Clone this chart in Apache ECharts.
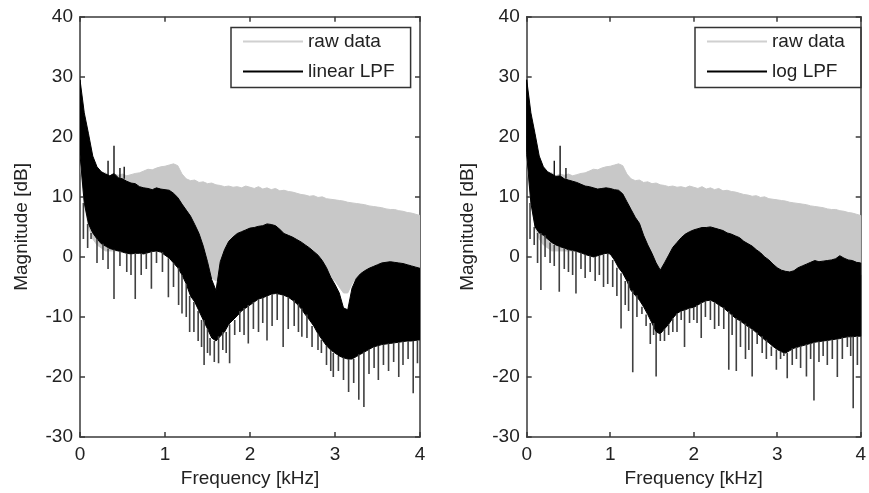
<!DOCTYPE html>
<html><head><meta charset="utf-8">
<script src="https://cdn.jsdelivr.net/npm/echarts@6/dist/echarts.min.js"></script>
<style>html,body{margin:0;padding:0;background:#fff}#c{width:869px;height:493px}</style>
</head><body><div id="c"></div>
<script>
// frequency bins every 0.05 kHz, 0 .. 4 kHz (81 bins)
const STEP = 0.05;
const xTicks = [0, 1, 2, 3, 4];
const yTicks = [-30, -20, -10, 0, 10, 20, 30, 40];

// raw data (same in both panels): upper / lower envelope [dB]
const rawHi = [
  17.5, 15.2, 14.1, 13.8, 13.6, 13.9, 14.0, 13.5, 13.8, 13.6,
  13.8, 13.5, 13.7, 13.9, 14.0, 14.3, 14.6, 14.5, 14.8, 15.0,
  15.1, 15.3, 15.5, 15.2, 13.8, 13.0, 12.7, 12.8, 12.4, 12.5,
  12.2, 12.3, 12.0, 11.9, 11.7, 11.8, 11.6, 11.7, 11.5, 11.8,
  11.6, 11.4, 11.7, 11.3, 11.5, 11.2, 11.4, 11.0, 11.1, 10.9,
  10.8, 10.6, 10.4, 10.3, 10.1, 10.2, 9.9, 10.0, 9.7, 9.6,
  9.5, 9.4, 9.3, 9.1, 9.0, 8.9, 8.8, 8.7, 8.5, 8.4,
  8.3, 8.2, 8.0, 7.9, 7.9, 7.7, 7.6, 7.4, 7.3, 7.1,
  6.9
];
const rawLo = [
  16, 9, 5, 3, 2, 1.5, 1, 1, 1, 1,
  1, 1, 1, 1, 1, 1, 1, 1, 1, 1,
  1, 0.5, 0, 0, -0.5, -1, -1, -1.5, -1.5, -2,
  -2.5, -3.5, -4, -3, -2.5, -2.5, -3, -3, -3, -3,
  -3, -3, -3, -3, -3, -3, -3, -3, -3, -3,
  -3, -3, -3, -3, -3, -3, -3, -3, -3, -3.5,
  -4, -5, -6, -6, -4.5, -3.5, -3, -3, -3, -3,
  -3, -3, -3, -3, -3, -3, -3, -3, -3, -3,
  -3
];
// linear LPF: upper envelope / lower edge of the solid band [dB]
const linHi = [
  29.5, 24.0, 20.5, 16.8, 15.0, 14.2, 13.8, 13.5, 13.9, 13.2,
  13.0, 12.6, 12.3, 12.2, 11.7, 11.5, 11.4, 11.2, 11.5, 11.3,
  11.2, 11.1, 10.6, 9.9, 8.8, 7.8, 6.8, 5.4, 3.9, 1.8,
  -0.8, -3.8, -5.6, -0.8, 1.2, 2.6, 3.3, 3.9, 4.2, 4.5,
  4.8, 4.9, 5.1, 5.2, 5.5, 5.4, 5.2, 4.6, 3.9, 3.6,
  3.3, 2.9, 2.5, 2.0, 1.5, 0.9, 0.3, -0.6, -1.8, -3.4,
  -4.6, -6.0, -8.5, -8.8, -5.2, -3.6, -2.8, -2.3, -1.9, -1.6,
  -1.3, -1.0, -0.9, -0.8, -0.9, -1.0, -1.1, -1.3, -1.5, -1.7,
  -1.9
];
const linLo = [
  17, 9, 5.5, 4, 3, 2.2, 1.8, 1.4, 1.2, 1.0,
  0.8, 0.6, 0.5, 0.6, 0.6, 0.5, 0.7, 0.9, 1.0, 0.8,
  0.3, -0.2, -1.0, -1.8, -3.0, -4.5, -6.5, -7.5, -9.0, -10.5,
  -12, -13.5, -14, -13.2, -12.5, -11.2, -10.5, -9.8, -9, -8.5,
  -8, -7.5, -7, -6.8, -6.5, -6.2, -6.1, -6.2, -6.4, -6.7,
  -7.2, -7.8, -8.6, -9.6, -10.5, -11.5, -12.8, -13.8, -14.8, -15.5,
  -16, -16.5, -16.8, -17, -17, -16.6, -16.2, -15.8, -15.4, -15,
  -14.8, -14.6, -14.5, -14.4, -14.3, -14.2, -14.1, -14, -14, -13.9,
  -13.8
];
// log LPF: upper envelope / lower edge of the solid band [dB]
const logHi = [
  29.5, 24.0, 20.5, 16.8, 15.0, 14.2, 13.8, 13.4, 13.5, 13.0,
  12.8, 12.6, 12.4, 12.1, 11.8, 11.7, 11.5, 11.3, 11.4, 11.5,
  11.4, 11.2, 11.1, 10.5, 9.2, 7.9, 6.6, 5.6, 3.6, 2.0,
  0.6, -1.0, -2.2, -1.0, 0.3, 1.6, 2.4, 3.2, 3.8, 4.2,
  4.5, 4.7, 4.9, 4.9, 5.0, 4.8, 4.6, 4.4, 4.0, 3.8,
  3.5, 3.2, 2.6, 2.2, 1.8, 1.2, 0.7, 0.0, -0.5, -1.2,
  -1.8, -2.2, -2.4, -2.5, -2.3, -1.8, -1.5, -1.2, -0.9, -0.6,
  -0.8, -0.7, -0.6, -0.5, -0.3, 0.2, -0.2, -0.5, -0.6, -0.9,
  -1.0
];
const logLo = [
  17, 9, 5, 4, 3.6, 3, 2.4, 2, 1.7, 1.5,
  1.2, 1.1, 0.9, 0.7, 0.4, 0.2, 0, 0.2, 0.4, 0.6,
  0.5, -0.5, -1.8, -2.7, -4, -5.6, -6.4, -7.2, -8.3, -9.6,
  -11, -12.5, -12.8, -12, -11.2, -10.2, -9.4, -9, -8.8, -8.5,
  -8.4, -8, -7.6, -7.3, -7.2, -7.5, -8, -8.4, -9, -9.6,
  -10.2, -10.6, -11.1, -11.6, -12, -12.6, -13.2, -13.8, -14.3, -14.9,
  -15.4, -15.8, -16, -15.6, -15.2, -15, -14.8, -14.6, -14.4, -14.2,
  -14.1, -14, -13.9, -13.8, -13.7, -13.6, -13.4, -13.3, -13.3, -13.2,
  -13.2
];
// isolated downward spikes [kHz, dB]
const linSpikes = [
  [0.04,3],[0.09,1.5],[0.13,3],[0.2,-1],[0.27,-0.5],[0.33,-2],[0.4,-7],[0.47,-1.5],[0.55,-2.5],[0.6,-3],
  [0.65,-7],[0.72,-3],[0.78,-2],[0.84,-5.3],[0.9,-1],[0.97,-2.5],[1.04,-6.7],[1.1,-5],[1.16,-8],[1.2,-9.4],
  [1.25,-10],[1.29,-12.5],[1.34,-12.5],[1.39,-14],[1.43,-15],[1.46,-18],[1.5,-16],[1.53,-16.4],[1.58,-17.5],[1.63,-17.7],
  [1.68,-15.5],[1.72,-16],[1.76,-17.7],[1.82,-13],[1.88,-12.5],[1.93,-13],[1.98,-14.4],[2.04,-12],[2.1,-12.5],[2.15,-11],
  [2.2,-13.9],[2.26,-11.5],[2.32,-10.5],[2.39,-15],[2.45,-12],[2.52,-11.5],[2.57,-12.5],[2.61,-13.3],[2.67,-13.5],[2.73,-15],
  [2.8,-15.5],[2.84,-16],[2.9,-18],[2.95,-19],[2.98,-20],[3.04,-19],[3.1,-20.5],[3.16,-22.5],[3.22,-21],[3.28,-23.8],
  [3.34,-25],[3.4,-19.5],[3.46,-18.5],[3.51,-20.5],[3.57,-18],[3.63,-19],[3.69,-17.5],[3.75,-20],[3.8,-18],[3.86,-17],
  [3.92,-22.7],[3.97,-17.7]
];
const logSpikes = [
  [0.04,3],[0.09,2],[0.13,-1],[0.17,-5.5],[0.22,0],[0.28,-1],[0.33,-1.5],[0.39,-5.8],[0.45,-2],[0.5,-2.5],
  [0.55,-3],[0.59,-6.1],[0.65,-2],[0.7,-3.5],[0.76,-2.5],[0.82,-4],[0.87,-3],[0.92,-5],[0.97,-4.5],[1.03,-5],
  [1.08,-6.5],[1.13,-11.9],[1.18,-8],[1.22,-9],[1.27,-19.2],[1.32,-10],[1.38,-9.5],[1.43,-11.5],[1.48,-14.5],[1.52,-13],
  [1.55,-19.9],[1.6,-14],[1.65,-14],[1.7,-13],[1.75,-12.5],[1.8,-12.5],[1.85,-10.5],[1.89,-15],[1.95,-11],[2.0,-10.5],
  [2.04,-11],[2.09,-13.5],[2.14,-10],[2.2,-10.5],[2.25,-12],[2.3,-11.5],[2.36,-12],[2.42,-18.8],[2.46,-13],[2.51,-19],
  [2.56,-15],[2.62,-17],[2.66,-15.5],[2.7,-19.9],[2.76,-14.5],[2.82,-16],[2.87,-17],[2.93,-16.5],[2.99,-18.8],[3.04,-17],
  [3.08,-16.5],[3.12,-20.2],[3.18,-18],[3.23,-17],[3.28,-18.5],[3.35,-19.9],[3.4,-17],[3.44,-23.9],[3.5,-17.5],[3.55,-16.5],
  [3.6,-18],[3.66,-17],[3.72,-20],[3.78,-17],[3.84,-15],[3.88,-16.5],[3.91,-25.2],[3.96,-18]
];
// isolated upward spikes [kHz, dB]
const linUpSpikes = [[0.33,16],[0.4,18.5],[0.47,14.8],[0.52,15]];
const logUpSpikes = [[0.33,16],[0.4,18.5],[0.47,14.8]];

const FONT = 'Liberation Sans';
const AXC = '#3a3a3a';
const RAWC = '#c8c8c8';
const freq = rawHi.map((_, i) => Math.round(i * STEP * 100) / 100);

function bins(lo, hi) { return freq.map((f, i) => [f, lo[i], hi[i]]); }
function spikeData(sp, ref) { return sp.map(([f, v]) => [f, v, ref[Math.round(f / STEP)]]); }

// one filled polygon per band: along the upper envelope, back along the lower one
function bandSeries(name, lo, hi, color, gi, z) {
  return {
    type: 'custom', name: name, xAxisIndex: gi * 2, yAxisIndex: gi * 2,
    data: bins(lo, hi), encode: { x: 0, y: [1, 2] }, z: z, clip: true, silent: true,
    itemStyle: { color: color },
    renderItem: function (params, api) {
      if (params.dataIndexInside !== 0) return null;
      const n = params.dataInsideLength;
      const pts = [];
      for (let j = 0; j < n; j++) pts.push(api.coord([api.value(0, j), api.value(2, j)]));
      for (let j = n - 1; j >= 0; j--) pts.push(api.coord([api.value(0, j), api.value(1, j)]));
      return { type: 'polygon', shape: { points: pts },
        style: { fill: color, stroke: color, lineWidth: 1 } };
    }
  };
}
function spikeSeries(sp, ref, gi, color, w, z) {
  return {
    type: 'custom', xAxisIndex: gi * 2, yAxisIndex: gi * 2, silent: true, clip: true, z: z,
    data: spikeData(sp, ref), encode: { x: 0, y: [1, 2] },
    renderItem: function (params, api) {
      const a = api.coord([api.value(0), api.value(1)]);
      const b = api.coord([api.value(0), api.value(2)]);
      return { type: 'line', shape: { x1: a[0], y1: a[1], x2: b[0], y2: b[1] },
        style: { stroke: color, lineWidth: w } };
    }
  };
}

function xAxes(gi) {
  const base = { gridIndex: gi, type: 'value', min: xTicks[0], max: xTicks[xTicks.length - 1], interval: 1,
    splitLine: { show: false },
    axisLine: { show: true, onZero: false, lineStyle: { color: AXC, width: 1.5 } },
    axisTick: { show: true, inside: true, length: 5, lineStyle: { color: AXC, width: 1.5 } } };
  return [
    Object.assign({}, base, { position: 'bottom',
      axisLabel: { show: true, margin: 8, fontFamily: FONT, fontSize: 19, color: '#222', showMinLabel: true, showMaxLabel: true },
      name: 'Frequency [kHz]', nameLocation: 'middle', nameGap: 31,
      nameTextStyle: { fontFamily: FONT, fontSize: 19, color: '#222' } }),
    Object.assign({}, base, { position: 'top', axisLabel: { show: false } })
  ];
}
function yAxes(gi) {
  const base = { gridIndex: gi, type: 'value', min: yTicks[0], max: yTicks[yTicks.length - 1], interval: 10,
    splitLine: { show: false },
    axisLine: { show: true, onZero: false, lineStyle: { color: AXC, width: 1.5 } },
    axisTick: { show: true, inside: true, length: 5, lineStyle: { color: AXC, width: 1.5 } } };
  return [
    Object.assign({}, base, { position: 'left',
      axisLabel: { show: true, margin: 7, fontFamily: FONT, fontSize: 19, color: '#222', showMinLabel: true, showMaxLabel: true },
      name: 'Magnitude [dB]', nameLocation: 'middle', nameGap: 49,
      nameTextStyle: { fontFamily: FONT, fontSize: 19, color: '#222' } }),
    Object.assign({}, base, { position: 'right', axisLabel: { show: false } })
  ];
}
function legendFor(left, name2) {
  return {
    left: left, top: 27.5, orient: 'vertical', selectedMode: false,
    itemWidth: 60, itemHeight: 2, itemGap: 11,
    padding: [4.5, 16, 6.5, 12],
    borderColor: '#333', borderWidth: 1.5, backgroundColor: '#fff',
    textStyle: { fontFamily: FONT, fontSize: 19, color: '#222' },
    data: [
      { name: 'raw data', icon: 'rect', itemStyle: { color: '#d0d0d0' } },
      { name: name2, icon: 'rect', itemStyle: { color: '#000' } }
    ]
  };
}

const chart = echarts.init(document.getElementById('c'), null, { renderer: 'canvas' });
chart.setOption({
  animation: false,
  backgroundColor: '#fff',
  grid: [
    { left: 80, top: 16.7, width: 340, height: 420.5 },
    { left: 526.7, top: 16.7, width: 340.3, height: 420.5 }
  ],
  xAxis: xAxes(0).concat(xAxes(1)),
  yAxis: yAxes(0).concat(yAxes(1)),
  legend: [legendFor(231, 'linear LPF'), legendFor(695, 'log LPF')],
  series: [
    bandSeries('raw data', rawLo, rawHi, RAWC, 0, 2),
    bandSeries('linear LPF', linLo, linHi, '#000', 0, 3),
    spikeSeries(linSpikes, linLo, 0, '#404040', 1.6, 4),
    spikeSeries(linUpSpikes, linHi, 0, '#000', 1.3, 4),
    bandSeries('raw data', rawLo, rawHi, RAWC, 1, 2),
    bandSeries('log LPF', logLo, logHi, '#000', 1, 3),
    spikeSeries(logSpikes, logLo, 1, '#404040', 1.6, 4),
    spikeSeries(logUpSpikes, logHi, 1, '#000', 1.3, 4)
  ]
});
</script></body></html>
